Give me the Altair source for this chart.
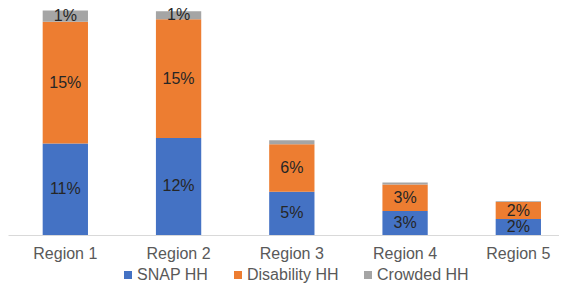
import altair as alt
import pandas as pd

regions = ["Region 1", "Region 2", "Region 3", "Region 4", "Region 5"]
series = ["SNAP HH", "Disability HH", "Crowded HH"]
snap = [0.114, 0.121, 0.054, 0.030, 0.020]
disability = [0.152, 0.148, 0.059, 0.033, 0.021]
crowded = [0.014, 0.010, 0.005, 0.0025, 0.001]
colors = ["#4472C4", "#ED7D31", "#A5A5A5"]

rows = []
for vals, s, o in [(snap, series[0], 0), (disability, series[1], 1), (crowded, series[2], 2)]:
    for r, v in zip(regions, vals):
        rows.append({"region": r, "series": s, "order": o, "value": v})
df = pd.DataFrame(rows)

FONT = "Liberation Sans, Arial, sans-serif"

base = alt.Chart(df).transform_stack(
    stack="value", groupby=["region"], sort=[alt.SortField("order", order="ascending")], as_=["v0", "v1"]
).transform_calculate(mid="(datum.v0 + datum.v1) / 2")

x = alt.X("region:N", sort=regions, title=None,
          scale=alt.Scale(paddingInner=0.6, paddingOuter=0.2327, align=0.658),
          axis=alt.Axis(labelAngle=0, labelFontSize=16, labelColor="#595959", labelFont=FONT,
                        ticks=False, domainColor="#D9D9D9", labelPadding=10))
yscale = alt.Scale(domain=[0, 0.283], nice=False, zero=True)

bars = base.mark_bar().encode(
    x=x,
    y=alt.Y("v1:Q", scale=yscale, axis=None),
    y2="v0:Q",
    color=alt.Color("series:N", sort=series,
                    scale=alt.Scale(domain=series, range=colors),
                    legend=alt.Legend(title=None, orient="none", direction="horizontal",
                                      legendX=112, legendY=259, padding=0,
                                      symbolType="square", symbolSize=64, symbolStrokeWidth=0,
                                      labelFontSize=16, labelColor="#595959", labelFont=FONT,
                                      labelOffset=1, columnPadding=21)),
)

text = base.transform_filter("datum.value >= 0.0095").mark_text(
    fontSize=16, color="#262626", font=FONT, baseline="middle", align="center"
).encode(
    x=alt.X("region:N", sort=regions),
    y=alt.Y("mid:Q", scale=yscale),
    text=alt.Text("value:Q", format=".0%"),
)

chart = alt.layer(bars, text).properties(
    width=551, height=227,
    padding={"left": 0, "top": 0, "right": 0, "bottom": 48},
    autosize=alt.AutoSizeParams(type="none"),
).configure_view(stroke=None)

chart.save("out.html", embed_options={"renderer": "svg", "actions": False})
